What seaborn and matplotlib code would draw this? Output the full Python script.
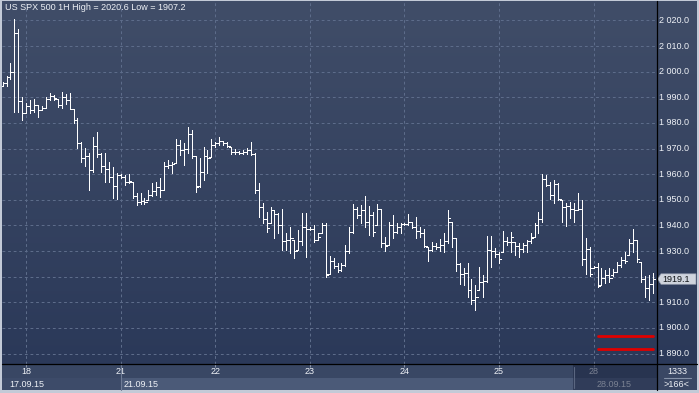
import numpy as np
import pandas as pd
import matplotlib
matplotlib.use("Agg")
import matplotlib.pyplot as plt
import seaborn as sns
from matplotlib.patches import Rectangle, Polygon
from matplotlib.colors import LinearSegmentedColormap

sns.set_style("white")
plt.rcParams["font.family"] = ["Liberation Sans", "DejaVu Sans"]

# ---------------- data (hourly OHLC, US SPX 500) ----------------
high = [
    1996.0, 1998.3, 2003.4, 2020.6, 2016.6, 1990.1, 1987.7, 1988.9, 1989.2, 1987.0,
    1986.6, 1990.2, 1991.6, 1990.9, 1989.3, 1992.2, 1991.2, 1991.6, 1985.4, 1981.8,
    1972.7, 1970.1, 1968.1, 1974.6, 1976.6, 1968.1, 1968.1, 1964.9, 1962.9, 1960.3,
    1960.0, 1959.7, 1960.0, 1957.1, 1952.5, 1952.5, 1950.6, 1953.8, 1956.4, 1957.1,
    1958.4, 1964.9, 1965.5, 1964.9, 1973.6, 1973.3, 1972.0, 1978.3, 1977.2, 1967.1,
    1966.2, 1970.7, 1969.4, 1973.6, 1972.7, 1974.4, 1973.1, 1972.7, 1970.7, 1969.7,
    1969.2, 1969.4, 1970.1, 1972.7, 1968.1, 1956.4, 1948.6, 1945.4, 1947.1, 1946.0,
    1944.7, 1946.3, 1936.9, 1939.5, 1934.3, 1938.2, 1944.7, 1944.7, 1939.2, 1940.2,
    1936.9, 1940.8, 1941.1, 1928.1, 1927.2, 1925.5, 1925.5, 1932.4, 1939.5, 1948.4,
    1947.3, 1948.0, 1951.5, 1947.6, 1945.4, 1948.4, 1946.3, 1935.6, 1941.5, 1944.1,
    1941.1, 1941.1, 1941.0, 1944.3, 1941.5, 1943.4, 1939.5, 1938.5, 1931.7, 1933.7,
    1933.0, 1934.6, 1937.2, 1946.0, 1941.5, 1935.0, 1925.5, 1923.3, 1925.5, 1919.0,
    1916.8, 1923.7, 1920.7, 1935.9, 1935.9, 1931.1, 1929.7, 1937.9, 1935.4, 1937.6,
    1933.7, 1933.0, 1933.3, 1934.3, 1937.2, 1941.1, 1945.4, 1960.0, 1959.7, 1957.1,
    1957.7, 1956.4, 1949.9, 1948.9, 1949.3, 1948.6, 1952.5, 1949.9, 1935.0, 1931.7,
    1924.0, 1925.5, 1923.3, 1922.6, 1923.3, 1922.9, 1925.8, 1927.8, 1929.7, 1934.6,
    1938.5, 1934.3, 1925.8, 1920.3, 1920.7, 1921.3]
low = [
    1994.4, 1994.4, 1997.1, 1984.3, 1984.3, 1981.1, 1983.7, 1983.7, 1984.4, 1982.3,
    1985.0, 1985.7, 1989.0, 1989.0, 1986.3, 1986.0, 1987.3, 1985.4, 1979.8, 1970.1,
    1964.6, 1963.3, 1953.8, 1960.7, 1966.8, 1960.7, 1956.8, 1957.1, 1950.6, 1950.3,
    1958.4, 1955.8, 1956.4, 1950.6, 1948.0, 1948.2, 1948.2, 1949.9, 1951.6, 1951.9,
    1951.2, 1953.8, 1962.3, 1960.6, 1964.2, 1967.5, 1963.6, 1968.4, 1966.2, 1953.2,
    1955.1, 1957.7, 1960.3, 1966.6, 1970.7, 1971.4, 1971.4, 1970.5, 1967.9, 1967.9,
    1967.9, 1967.9, 1967.9, 1967.5, 1952.5, 1943.4, 1940.8, 1937.6, 1940.8, 1935.0,
    1936.9, 1930.4, 1930.4, 1929.1, 1927.2, 1930.4, 1932.4, 1927.6, 1938.2, 1933.6,
    1934.3, 1936.9, 1919.8, 1921.0, 1923.3, 1922.0, 1922.2, 1924.2, 1929.4, 1936.9,
    1942.8, 1940.8, 1939.5, 1936.3, 1935.9, 1940.2, 1931.7, 1930.1, 1932.4, 1935.0,
    1936.9, 1936.9, 1940.2, 1940.2, 1938.9, 1935.0, 1935.6, 1931.5, 1926.2, 1930.1,
    1930.7, 1930.1, 1929.7, 1933.0, 1931.5, 1922.3, 1917.1, 1916.8, 1912.2, 1909.3,
    1907.2, 1914.8, 1912.2, 1918.0, 1923.9, 1927.8, 1925.2, 1929.7, 1932.4, 1929.7,
    1928.5, 1927.6, 1929.7, 1929.7, 1933.3, 1935.6, 1936.9, 1941.5, 1955.4, 1950.2,
    1948.6, 1949.9, 1941.5, 1939.8, 1942.8, 1941.5, 1946.0, 1924.6, 1921.0, 1920.3,
    1923.2, 1915.9, 1916.8, 1917.4, 1918.0, 1920.3, 1922.0, 1923.9, 1925.2, 1928.5,
    1929.7, 1925.8, 1918.0, 1912.2, 1910.9, 1913.8]
open_ = [
    1994.6, 1995.6, 1998.0, 2000.0, 2015.0, 1988.5, 1984.0, 1986.5, 1985.0, 1987.0,
    1985.2, 1985.8, 1989.5, 1990.5, 1989.3, 1987.0, 1990.2, 1989.0, 1985.4, 1981.0,
    1972.0, 1966.5, 1967.0, 1961.5, 1971.0, 1968.0, 1963.0, 1962.0, 1959.0, 1955.5,
    1959.5, 1959.0, 1957.0, 1957.1, 1951.5, 1949.0, 1949.5, 1950.0, 1952.0, 1953.5,
    1955.0, 1954.0, 1963.0, 1963.5, 1964.2, 1971.5, 1969.5, 1970.0, 1975.5, 1967.0,
    1955.5, 1961.0, 1967.0, 1966.6, 1971.5, 1972.0, 1973.0, 1972.0, 1970.7, 1968.5,
    1968.5, 1968.3, 1968.5, 1969.5, 1968.0, 1954.0, 1947.0, 1942.5, 1941.0, 1946.0,
    1944.5, 1940.0, 1934.0, 1934.5, 1934.3, 1930.4, 1934.0, 1939.5, 1938.8, 1938.8,
    1934.5, 1937.0, 1940.0, 1921.0, 1926.0, 1924.0, 1922.8, 1924.5, 1930.0, 1937.5,
    1946.5, 1944.0, 1946.0, 1941.5, 1944.0, 1940.2, 1946.3, 1933.0, 1932.4, 1940.0,
    1937.5, 1939.5, 1940.5, 1940.7, 1941.5, 1939.5, 1938.0, 1937.0, 1931.7, 1930.5,
    1932.0, 1931.5, 1932.5, 1934.0, 1941.5, 1935.0, 1925.0, 1921.0, 1921.5, 1915.0,
    1911.0, 1914.8, 1918.0, 1918.5, 1930.5, 1930.0, 1929.0, 1929.7, 1934.0, 1933.5,
    1933.7, 1932.0, 1931.0, 1932.5, 1934.0, 1935.6, 1940.0, 1942.5, 1958.0, 1955.8,
    1952.0, 1956.0, 1949.9, 1947.0, 1947.5, 1946.5, 1946.0, 1946.5, 1927.0, 1931.0,
    1923.5, 1923.8, 1916.8, 1919.5, 1920.5, 1920.5, 1922.0, 1924.5, 1926.5, 1928.5,
    1933.0, 1934.3, 1925.8, 1919.0, 1915.5, 1917.0]
close = [
    1995.6, 1998.0, 2000.0, 2015.0, 1988.5, 1984.0, 1986.5, 1985.0, 1987.0, 1985.2,
    1985.8, 1989.5, 1990.5, 1989.6, 1987.0, 1990.2, 1989.0, 1985.6, 1981.0, 1972.0,
    1966.5, 1967.0, 1961.5, 1971.0, 1968.0, 1963.0, 1962.0, 1959.0, 1955.5, 1959.5,
    1959.0, 1957.0, 1957.5, 1951.5, 1949.0, 1949.5, 1949.0, 1952.0, 1953.5, 1955.0,
    1954.0, 1963.0, 1963.5, 1964.0, 1971.5, 1969.5, 1970.0, 1975.5, 1967.0, 1955.0,
    1961.0, 1967.0, 1966.5, 1971.5, 1972.0, 1973.0, 1972.0, 1971.0, 1968.5, 1968.5,
    1968.3, 1968.5, 1969.5, 1968.0, 1954.0, 1947.0, 1942.5, 1939.0, 1946.0, 1944.5,
    1940.0, 1934.0, 1934.5, 1935.0, 1930.0, 1934.0, 1939.5, 1938.8, 1938.8, 1934.5,
    1935.5, 1940.0, 1920.5, 1926.0, 1924.0, 1922.8, 1924.5, 1930.0, 1937.5, 1946.5,
    1944.0, 1946.0, 1941.5, 1944.0, 1937.5, 1946.5, 1933.0, 1932.0, 1940.0, 1937.5,
    1939.5, 1940.5, 1940.7, 1941.5, 1939.5, 1938.0, 1937.0, 1932.0, 1930.5, 1932.0,
    1931.5, 1932.5, 1934.0, 1943.0, 1935.0, 1925.0, 1921.0, 1921.5, 1915.0, 1911.0,
    1912.0, 1918.0, 1918.5, 1930.5, 1930.0, 1929.0, 1927.0, 1934.0, 1933.5, 1935.5,
    1932.0, 1931.0, 1932.5, 1934.0, 1935.0, 1940.0, 1942.5, 1958.0, 1955.8, 1952.0,
    1956.0, 1950.5, 1947.0, 1947.5, 1946.5, 1946.0, 1946.5, 1927.0, 1931.0, 1921.0,
    1923.8, 1916.5, 1919.5, 1920.5, 1919.5, 1922.0, 1924.5, 1926.5, 1926.0, 1933.0,
    1934.5, 1927.0, 1919.0, 1915.5, 1917.0, 1919.1]

day_labels = ["18", "21", "22", "23", "24", "25", "28"]
day_start_bar = [6, 30, 54, 78, 102, 126, 150]
date_labels = ["17.09.15", "21.09.15", "28.09.15"]
date_start_bar = [0, 30, 150]
price_ticks = [2020, 2010, 2000, 1990, 1980, 1970, 1960, 1950, 1940, 1930,
               1920, 1910, 1900, 1890]
level_lines = [1896.8, 1891.7]
level_from_bar, level_to_bar = 151, 165
last_price = 1919.1
title = "US SPX 500 1H High = 2020.6 Low = 1907.2"
counter_top, counter_bottom = "1333", ">166<"

assert len(high) == len(low) == len(open_) == len(close) == 166

# ---------------- geometry (pixels) ----------------
W, H = 699, 393
BAR0_PX, BAR_STEP_PX = 2.6, 3.94
PL, PT, PR, PB = 2, 1, 657, 364
SB = 390                     # bottom of date strip
RR = 697                     # right edge of price panel
Y_REF_PX, Y_REF_VAL, PX_PER_PT = 20.4, 2020.0, 2.563

xlim = ((PL - BAR0_PX) / BAR_STEP_PX, (PR - BAR0_PX) / BAR_STEP_PX)
ylim = (Y_REF_VAL - (PB - Y_REF_PX) / PX_PER_PT, Y_REF_VAL + (Y_REF_PX - PT) / PX_PER_PT)

def bar_px(i):
    return BAR0_PX + BAR_STEP_PX * i

def price_px(v):
    return Y_REF_PX + (Y_REF_VAL - v) * PX_PER_PT

def rect(x0, y0, x1, y1):
    return [x0 / W, 1 - y1 / H, (x1 - x0) / W, (y1 - y0) / H]

BG_TOP, BG_BOT = "#404d68", "#2b3959"
GRID = "#5d6c8a"
TXT = "#eef1f6"
FS = 6.5
LW1 = 0.72   # one pixel
grad_cmap = LinearSegmentedColormap.from_list("bg", [BG_TOP, BG_BOT])
grad = np.linspace(0, 1, 256)[:, None]

fig = plt.figure(figsize=(W / 100, H / 100), dpi=100, facecolor="#c3cad7")

# background overlay (strip colours)
ovb = fig.add_axes([0, 0, 1, 1], zorder=0)
ovb.set_xlim(0, W); ovb.set_ylim(H, 0); ovb.axis("off")
split_px = bar_px(date_start_bar[1])
ovb.add_patch(Rectangle((PL, PB), PR - PL, 13.5, color="#394764", lw=0))
ovb.add_patch(Rectangle((PL, PB + 13.5), split_px - PL, SB - PB - 13.5, color="#3d4b69", lw=0))
ovb.add_patch(Rectangle((split_px, PB + 13.5), PR - split_px, SB - PB - 13.5, color="#4b5a78", lw=0))
ovb.add_patch(Rectangle((PR, PB), RR - PR, SB - PB, color="#3a4764", lw=0))

# ---------------- main price axes ----------------
ax = fig.add_axes(rect(PL, PT, PR, PB), zorder=1)
ax.imshow(grad, cmap=grad_cmap, aspect="auto", origin="upper",
          extent=[xlim[0], xlim[1], ylim[0], ylim[1]], zorder=0, interpolation="bilinear")
ax.hlines(price_ticks, xlim[0], xlim[1], colors=GRID, lw=LW1,
          linestyles=(0, (2.8, 2.8)), zorder=1)
ax.vlines(day_start_bar, ylim[0], ylim[1], colors=GRID, lw=LW1,
          linestyles=(0, (2.8, 2.8)), zorder=1)

idx = np.arange(len(high))
ax.vlines(idx, low, high, colors="white", lw=LW1, zorder=3, antialiased=False)
ax.hlines(open_, idx - 0.6, idx, colors="white", lw=LW1, zorder=3, antialiased=False)
ax.hlines(close, idx, idx + 0.6, colors="white", lw=LW1, zorder=3, antialiased=False)

lv = pd.DataFrame({
    "bar": [level_from_bar, level_to_bar + 0.1] * len(level_lines),
    "price": [v for v in level_lines for _ in range(2)],
    "level": [k for k in range(len(level_lines)) for _ in range(2)],
})
sns.lineplot(data=lv, x="bar", y="price", units="level", estimator=None,
             color="#e00000", lw=2.0, ax=ax, legend=False, zorder=4)
ax.set_xlim(xlim); ax.set_ylim(ylim)
ax.axis("off")

# ---------------- right price panel ----------------
axr = fig.add_axes(rect(PR, PT, RR, PB), zorder=1)
axr.imshow(grad, cmap=grad_cmap, aspect="auto", origin="upper",
           extent=[0, 1, ylim[0], ylim[1]], zorder=0, interpolation="bilinear")
axr.set_xlim(0, 1); axr.set_ylim(ylim); axr.axis("off")
for v in price_ticks:
    if abs(v - last_price) < 4:      # hidden under the last-price marker
        continue
    lab = f"{int(v) // 1000} {int(v) % 1000:03d}.0"
    axr.text(0.05, v, lab, color=TXT, fontsize=FS, ha="left", va="center",
             transform=axr.get_yaxis_transform())

# ---------------- date strip ----------------
axb = fig.add_axes(rect(PL, PB, PR, SB), zorder=2)
axb.patch.set_alpha(0)
axb.set_xlim(xlim); axb.set_ylim(SB, PB); axb.axis("off")
axb.vlines(day_start_bar, PB, PB + 3, colors="#8d98ad", lw=0.8)
for b, lab in zip(day_start_bar, day_labels):
    axb.text(b, PB + 7.6, lab, color=TXT, fontsize=FS, ha="center", va="center")
offsets = [7.0, 3.2, 3.2]
for b, lab, off in zip(date_start_bar, date_labels, offsets):
    axb.text(b + off / BAR_STEP_PX, PB + 20.2, lab, color=TXT, fontsize=FS,
             ha="left", va="center")

# ---------------- foreground overlay ----------------
ov = fig.add_axes([0, 0, 1, 1], zorder=5)
ov.patch.set_alpha(0)
ov.set_xlim(0, W); ov.set_ylim(H, 0); ov.axis("off")
ov.plot([split_px, split_px], [PB, SB], color="#6f7c96", lw=0.8)
ov.add_patch(Rectangle((573, PB), PR - 573, SB - PB, color="#1b2540", alpha=0.55, lw=0))
ov.plot([573.5, 573.5], [PB + 3, SB - 2], color="#5a6680", lw=0.8)
ov.plot([PR, PR], [PT, SB], color="black", lw=0.9)
ov.plot([PL, RR], [PB, PB], color="black", lw=0.9)
ov.text(5, 8.0, title, color=TXT, fontsize=FS, ha="left", va="center")
ov.text((PR + RR) / 2, PB + 7.3, counter_top, color=TXT, fontsize=FS, ha="center", va="center")
ov.plot([664, 691], [PB + 14, PB + 14], color="#8591a8", lw=0.8)
ov.text((PR + RR) / 2, PB + 20.2, counter_bottom, color=TXT, fontsize=FS, ha="center", va="center")

yp = price_px(last_price)
ov.add_patch(Polygon([(PR + 0.5, yp), (PR + 4, yp - 5.2), (RR - 1, yp - 5.2),
                      (RR - 1, yp + 5.3), (PR + 4, yp + 5.3)], closed=True,
                     fc="#cfd4dd", ec="#8e97a9", lw=0.5))
ov.text(PR + 5.5, yp + 0.4, f"{last_price:.1f}", color="#101418", fontsize=FS,
        ha="left", va="center")

fig.savefig("out.png", dpi=100, facecolor=fig.get_facecolor())
